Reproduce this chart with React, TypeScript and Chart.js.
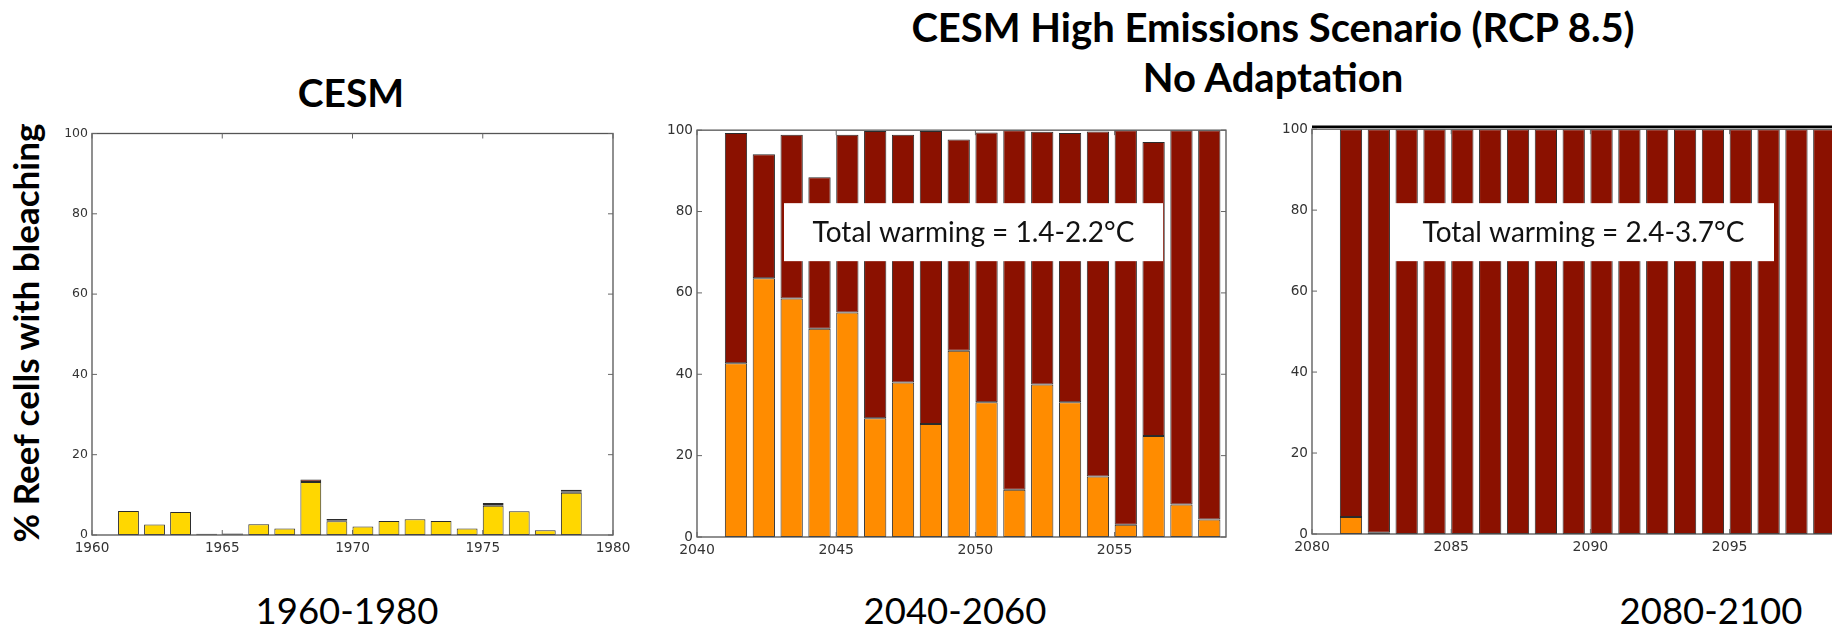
import React, { useEffect, useRef } from "react";
import { Chart, registerables } from "chart.js";

Chart.register(...registerables);

// ---- data -------------------------------------------------------------
const Y_TICKS = [0, 20, 40, 60, 80, 100];

const HIST_YEARS = [1961, 1962, 1963, 1964, 1965, 1966, 1967, 1968, 1969, 1970, 1971, 1972, 1973, 1974, 1975, 1976, 1977, 1978];
const HIST_MODERATE = [6.0, 2.6, 5.7, 0.2, 0.2, 2.7, 1.6, 13.2, 3.4, 2.1, 3.5, 3.9, 3.5, 1.6, 7.3, 5.9, 1.2, 10.5];
const HIST_ORANGE = [0, 0, 0, 0, 0, 0, 0, 0, 0.3, 0, 0, 0, 0, 0, 0.4, 0, 0, 0.4];
const HIST_SEVERE = [0, 0, 0, 0.1, 0.2, 0, 0, 0.6, 0.3, 0, 0, 0, 0, 0, 0.3, 0, 0, 0.4];
const HIST_TICKS = [1960, 1965, 1970, 1975, 1980];

const MID_YEARS = [2041, 2042, 2043, 2044, 2045, 2046, 2047, 2048, 2049, 2050, 2051, 2052, 2053, 2054, 2055, 2056, 2057, 2058];
const MID_ORANGE = [42.7, 63.6, 58.6, 51.2, 55.2, 29.2, 38.0, 27.8, 45.8, 33.1, 11.6, 37.5, 33.1, 14.9, 3.0, 24.8, 8.0, 4.3];
const MID_SEVERE = [56.6, 30.5, 40.3, 37.2, 43.7, 70.6, 60.9, 72.0, 51.9, 66.3, 88.4, 62.1, 66.2, 84.8, 97.0, 72.3, 92.0, 95.7];
const MID_TICKS = [2040, 2045, 2050, 2055];

const LATE_YEARS = [2081, 2082, 2083, 2084, 2085, 2086, 2087, 2088, 2089, 2090, 2091, 2092, 2093, 2094, 2095, 2096, 2097, 2098];
const LATE_ORANGE = [4.2, 0.3, 0, 0, 0, 0, 0, 0, 0, 0, 0, 0, 0, 0, 0, 0, 0, 0];
const LATE_SEVERE = [95.8, 99.7, 100, 100, 100, 100, 100, 100, 100, 100, 100, 100, 100, 100, 100, 100, 100, 100];
const LATE_TICKS = [2080, 2085, 2090, 2095];

const YELLOW = "#ffd700";
const ORANGE = "#ff8c00";
const DARK_RED = "#8b1100";
const EDGE = "#2b2b2b";

// bars are edge-aligned: each spans [year, year + 0.8]
const BAR_WIDTH = 0.8;

type Series = { values: number[]; color: string };

type PanelProps = {
  left: number;
  top: number;
  width: number;
  height: number;
  years: number[];
  series: Series[];
  xMin: number;
  xMax: number;
  xTicks: number[];
  yFont: number;
  xFont: number;
  note?: { text: string; dx: number; dy: number; w: number; h: number };
  topRule?: boolean;
};

const PAD_TOP = 10;
const PAD_RIGHT = 25;
const Y_AXIS_W = 40;
const X_AXIS_H = 40;

function Panel(props: PanelProps) {
  const ref = useRef<HTMLCanvasElement | null>(null);

  useEffect(() => {
    const canvas = ref.current;
    if (!canvas) return;

    const datasets = props.series.map((s) => ({
      data: props.years.map((yr, i) => ({ x: yr + BAR_WIDTH / 2, y: s.values[i] })),
      backgroundColor: s.color,
      borderColor: EDGE,
      borderWidth: 1,
      borderSkipped: false as const,
      barPercentage: BAR_WIDTH,
      categoryPercentage: 1,
    }));

    const framePlugin = {
      id: "frame",
      afterDatasetsDraw(chart: Chart) {
        const { ctx, chartArea: a } = chart;
        ctx.save();
        if (props.note) {
          const n = props.note;
          ctx.fillStyle = "#ffffff";
          ctx.fillRect(a.left + n.dx, a.top + n.dy, n.w, n.h);
          ctx.fillStyle = "#111111";
          ctx.font = "28px Lato, 'Open Sans', sans-serif";
          ctx.textAlign = "center";
          ctx.textBaseline = "middle";
          ctx.fillText(n.text, a.left + n.dx + n.w / 2, a.top + n.dy + n.h / 2 + 1);
        }
        ctx.strokeStyle = "#555555";
        ctx.lineWidth = 1.3;
        ctx.strokeRect(a.left, a.top, a.right - a.left, a.bottom - a.top);
        // inward tick marks on all four sides
        const xs = chart.scales.x;
        const ys = chart.scales.y;
        ctx.lineWidth = 1;
        ctx.strokeStyle = "#666666";
        ctx.beginPath();
        for (const v of props.xTicks) {
          const px = xs.getPixelForValue(v);
          ctx.moveTo(px, a.bottom);
          ctx.lineTo(px, a.bottom - 5);
          ctx.moveTo(px, a.top);
          ctx.lineTo(px, a.top + 5);
        }
        for (const v of Y_TICKS) {
          const py = ys.getPixelForValue(v);
          ctx.moveTo(a.left, py);
          ctx.lineTo(a.left + 5, py);
          ctx.moveTo(a.right, py);
          ctx.lineTo(a.right - 5, py);
        }
        ctx.stroke();
        if (props.topRule) {
          ctx.strokeStyle = "#000000";
          ctx.lineWidth = 2.5;
          ctx.beginPath();
          ctx.moveTo(a.left, a.top - 2.5);
          ctx.lineTo(a.right, a.top - 2.5);
          ctx.stroke();
        }
        ctx.restore();
      },
    };

    const chart = new Chart(canvas, {
      type: "bar",
      data: { datasets: datasets as any },
      options: {
        responsive: false,
        animation: false,
        events: [],
        layout: { padding: { top: PAD_TOP, right: PAD_RIGHT, left: 0, bottom: 0 } },
        plugins: { legend: { display: false }, tooltip: { enabled: false } },
        scales: {
          x: {
            type: "linear",
            stacked: true,
            offset: false,
            min: props.xMin,
            max: props.xMax,
            grid: { display: false, drawTicks: false, offset: false },
            border: { display: false },
            afterBuildTicks: (s: any) => {
              s.ticks = props.xTicks.map((v) => ({ value: v }));
            },
            afterFit: (s: any) => {
              s.height = X_AXIS_H;
            },
            ticks: {
              maxRotation: 0,
              autoSkip: false,
              padding: 5,
              color: "#333333",
              font: { family: "'DejaVu Sans', sans-serif", size: props.xFont },
              callback: (v: any) => String(v),
            },
          },
          y: {
            type: "linear",
            stacked: true,
            min: 0,
            max: 100,
            grid: { display: false, drawTicks: false },
            border: { display: false },
            afterBuildTicks: (s: any) => {
              s.ticks = Y_TICKS.map((v) => ({ value: v }));
            },
            afterFit: (s: any) => {
              s.width = Y_AXIS_W;
            },
            ticks: {
              padding: 4,
              color: "#333333",
              font: { family: "'DejaVu Sans', sans-serif", size: props.yFont },
              callback: (v: any) => String(v),
            },
          },
        },
      },
      plugins: [framePlugin],
    });
    return () => chart.destroy();
  }, []);

  return (
    <canvas
      ref={ref}
      width={props.width}
      height={props.height}
      style={{ position: "absolute", left: props.left, top: props.top }}
    />
  );
}

function Label(p: {
  x: number;
  y: number;
  text: string;
  size: number;
  weight: number;
  rotate?: boolean;
}) {
  return (
    <div
      style={{
        position: "absolute",
        left: p.x,
        top: p.y,
        transform: `translate(-50%, -50%)${p.rotate ? " rotate(-90deg)" : ""}`,
        fontFamily: "Lato, 'Open Sans', sans-serif",
        fontSize: p.size,
        fontWeight: p.weight,
        lineHeight: 1,
        whiteSpace: "nowrap",
        color: "#000000",
      }}
    >
      {p.text}
    </div>
  );
}

export default function App() {
  return (
    <div
      style={{
        position: "absolute",
        left: 0,
        top: 0,
        width: 1832,
        height: 631,
        overflow: "hidden",
        background: "#ffffff",
      }}
    >
      <Panel
        left={92 - Y_AXIS_W}
        top={132 - PAD_TOP}
        width={Y_AXIS_W + 521 + PAD_RIGHT}
        height={PAD_TOP + 403 + X_AXIS_H}
        years={HIST_YEARS}
        series={[
          { values: HIST_MODERATE, color: YELLOW },
          { values: HIST_ORANGE, color: ORANGE },
          { values: HIST_SEVERE, color: DARK_RED },
        ]}
        xMin={1960}
        xMax={1980}
        xTicks={HIST_TICKS}
        yFont={12.5}
        xFont={13.6}
      />
      <Panel
        left={697 - Y_AXIS_W}
        top={128 - PAD_TOP}
        width={Y_AXIS_W + 529 + PAD_RIGHT}
        height={PAD_TOP + 409 + X_AXIS_H}
        years={MID_YEARS}
        series={[
          { values: MID_ORANGE, color: ORANGE },
          { values: MID_SEVERE, color: DARK_RED },
        ]}
        xMin={2040}
        xMax={2059}
        xTicks={MID_TICKS}
        yFont={13.6}
        xFont={14}
        note={{ text: "Total warming = 1.4-2.2°C", dx: 87, dy: 73, w: 379, h: 58 }}
      />
      <Panel
        left={1312 - Y_AXIS_W}
        top={127 - PAD_TOP}
        width={Y_AXIS_W + 529 + PAD_RIGHT}
        height={PAD_TOP + 407 + X_AXIS_H}
        years={LATE_YEARS}
        series={[
          { values: LATE_ORANGE, color: ORANGE },
          { values: LATE_SEVERE, color: DARK_RED },
        ]}
        xMin={2080}
        xMax={2099}
        xTicks={LATE_TICKS}
        yFont={13.6}
        xFont={14}
        note={{ text: "Total warming = 2.4-3.7°C", dx: 81, dy: 74, w: 381, h: 58 }}
        topRule
      />

      <Label x={351} y={92} text="CESM" size={39} weight={700} />
      <Label x={1273} y={27} text="CESM High Emissions Scenario (RCP 8.5)" size={40} weight={700} />
      <Label x={1273} y={77} text="No Adaptation" size={40} weight={700} />
      <Label x={25} y={333} text="% Reef cells with bleaching" size={35} weight={700} rotate />

      <Label x={347} y={610} text="1960-1980" size={36.5} weight={400} />
      <Label x={955} y={610} text="2040-2060" size={36.5} weight={400} />
      <Label x={1711} y={610} text="2080-2100" size={36.5} weight={400} />
    </div>
  );
}
